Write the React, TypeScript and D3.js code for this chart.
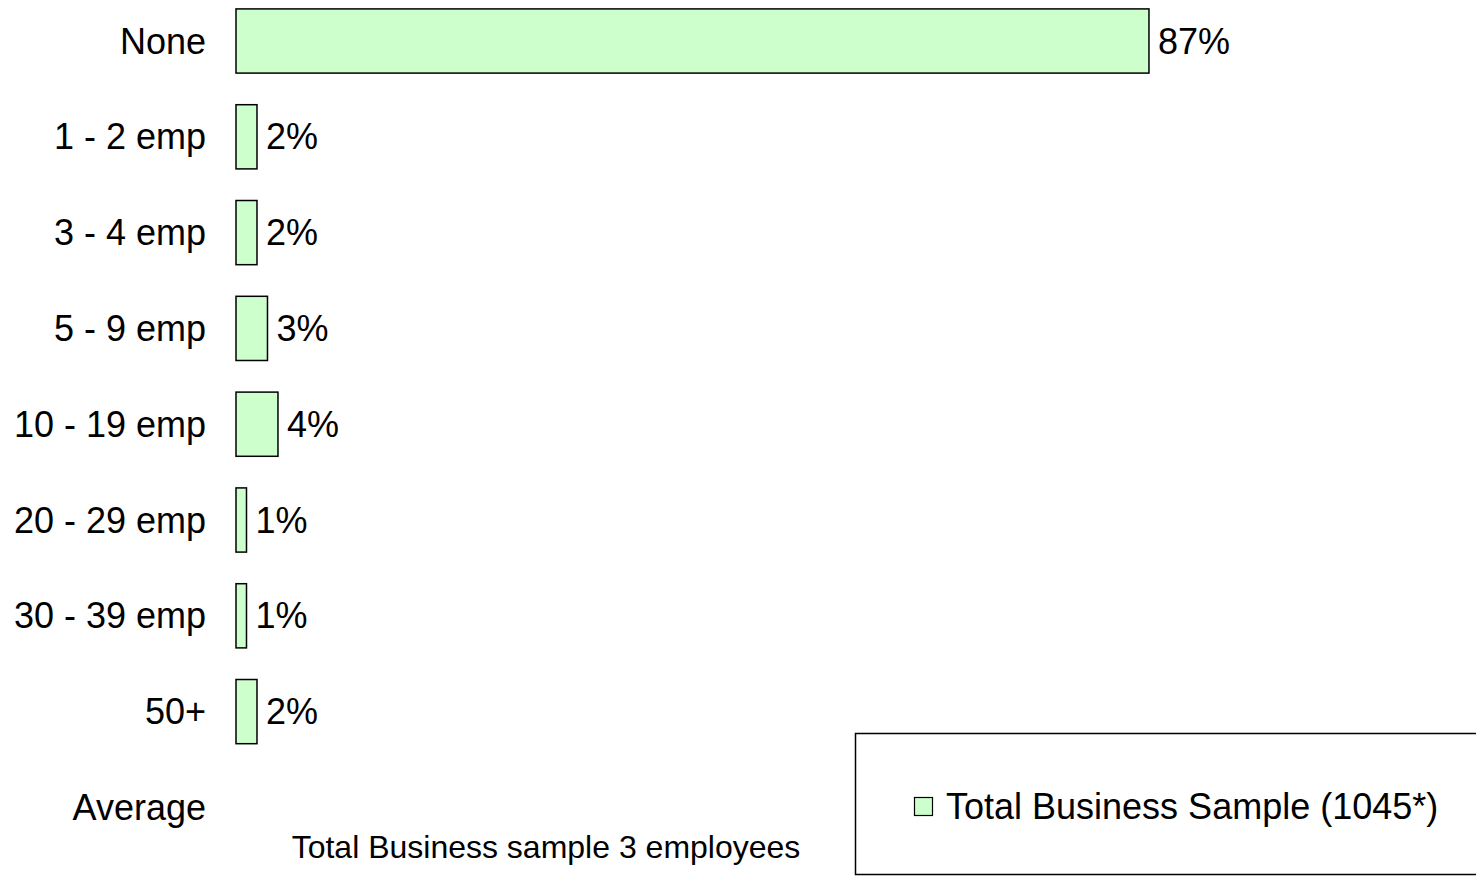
import { useEffect, useRef } from "react"
import * as d3 from "d3"

// categories and values (percent)
const categories = ["None", "1 - 2 emp", "3 - 4 emp", "5 - 9 emp", "10 - 19 emp", "20 - 29 emp", "30 - 39 emp", "50+", "Average"]
const values: (number | null)[] = [87, 2, 2, 3, 4, 1, 1, 2, null]
const valueLabels = ["87%", "2%", "2%", "3%", "4%", "1%", "1%", "2%", ""]
const seriesName = "Total Business Sample (1045*)"
const axisTitle = "Total Business sample 3 employees"

const W = 1476
const H = 878
const font = "'Liberation Sans', Arial, sans-serif"
const fill = "#CCFFCC"

const App = () => {
    const ref = useRef<SVGSVGElement>(null)

    useEffect(() => {
        const svg = d3.select(ref.current)
        svg.selectAll("*").remove()

        const x = d3.scaleLinear().domain([0, 100]).range([236, 236 + 1049.4])
        const y = d3
            .scaleBand()
            .domain(categories)
            .range([-6.9, 855.3])
            .paddingInner(0.33)
            .paddingOuter(0.165)

        const rows = categories.map((c, i) => ({ c, v: values[i], label: valueLabels[i] }))

        // category labels
        svg.append("g")
            .selectAll("text")
            .data(rows)
            .join("text")
            .attr("x", 206)
            .attr("y", d => y(d.c)! + y.bandwidth() / 2)
            .attr("dy", "0.35em")
            .attr("text-anchor", "end")
            .attr("font-family", font)
            .attr("font-size", 36)
            .attr("fill", "#000")
            .text(d => d.c)

        const withValue = rows.filter(d => d.v !== null)

        svg.append("g")
            .selectAll("rect")
            .data(withValue)
            .join("rect")
            .attr("x", x(0))
            .attr("y", d => y(d.c)!)
            .attr("width", d => x(d.v as number) - x(0))
            .attr("height", y.bandwidth())
            .attr("fill", fill)
            .attr("stroke", "#000")
            .attr("stroke-width", 1.5)

        svg.append("g")
            .selectAll("text")
            .data(withValue)
            .join("text")
            .attr("x", d => x(d.v as number) + 9)
            .attr("y", d => y(d.c)! + y.bandwidth() / 2)
            .attr("dy", "0.35em")
            .attr("font-family", font)
            .attr("font-size", 36)
            .attr("fill", "#000")
            .text(d => d.label)

        // axis title
        svg.append("text")
            .attr("x", 546)
            .attr("y", 847)
            .attr("dy", "0.35em")
            .attr("text-anchor", "middle")
            .attr("font-family", font)
            .attr("font-size", 32)
            .text(axisTitle)

        // legend
        const legend = svg.append("g")
        legend.append("rect")
            .attr("x", 855.5)
            .attr("y", 733.5)
            .attr("width", 640)
            .attr("height", 141)
            .attr("fill", "#fff")
            .attr("stroke", "#000")
            .attr("stroke-width", 1.5)
        legend.append("rect")
            .attr("x", 914.5)
            .attr("y", 797.5)
            .attr("width", 18)
            .attr("height", 18)
            .attr("fill", fill)
            .attr("stroke", "#000")
            .attr("stroke-width", 1.2)
        legend.append("text")
            .attr("x", 946)
            .attr("y", 806)
            .attr("dy", "0.35em")
            .attr("font-family", font)
            .attr("font-size", 36)
            .text(seriesName)
    }, [])

    return (
        <svg
            ref={ref}
            width={W}
            height={H}
            style={{ position: "absolute", left: 0, top: 0, background: "#fff" }}
        />
    )
}

export default App
